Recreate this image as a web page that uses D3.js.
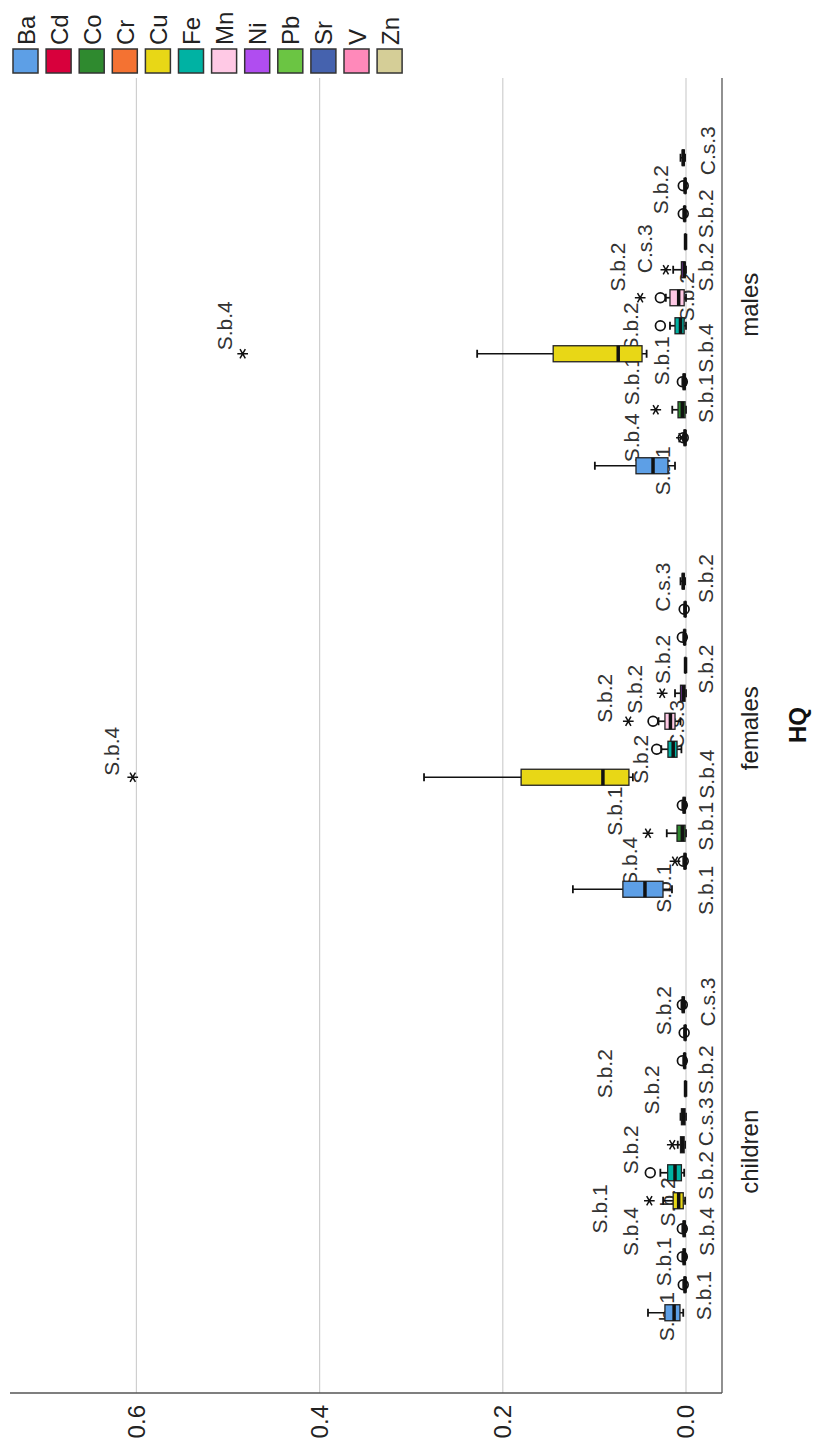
<!DOCTYPE html>
<html>
<head>
<meta charset="utf-8">
<script src="https://cdn.jsdelivr.net/npm/d3@7"></script>
<style>
  body { margin: 0; background: #fff; }
  text { font-family: 'Liberation Sans', Arial, sans-serif; }
</style>
</head>
<body>
<svg id="chart" width="815" height="1444"></svg>
<script>
var groups = ['children', 'females', 'males'];
var elements = ['Ba', 'Cd', 'Co', 'Cr', 'Cu', 'Fe', 'Mn', 'Ni', 'Pb', 'Sr', 'V', 'Zn'];
var colors = ['#5d9fe6', '#d8003c', '#2f8a2f', '#f47232', '#e8d716', '#00b2a3',
  '#ffc9e5', '#b04df0', '#6bc543', '#4562ae', '#ff89ba', '#d5ce97'];
var ticks = [0, 0.2, 0.4, 0.6];

// [lower whisker, Q1, median, Q3, upper whisker] per element
var childrenBox = [
  [0.003, 0.0066, 0.013, 0.023, 0.0415],
  [0, 0.0005, 0.001, 0.002, 0.003],
  [0, 0.001, 0.002, 0.003, 0.004],
  [0, 0.001, 0.002, 0.003, 0.004],
  [0.001, 0.003, 0.008, 0.014, 0.025],
  [0.002, 0.005, 0.012, 0.02, 0.028],
  [0.001, 0.002, 0.004, 0.006, 0.009],
  [0, 0.001, 0.003, 0.005, 0.006],
  [0, 0.0005, 0.0005, 0.001, 0.001],
  [0, 0.001, 0.0015, 0.002, 0.003],
  [0, 0.0005, 0.001, 0.001, 0.002],
  [0.001, 0.002, 0.003, 0.004, 0.005]
];
var femalesBox = [
  [0.0153, 0.0251, 0.0448, 0.0689, 0.1235],
  [0, 0.0005, 0.001, 0.002, 0.003],
  [0, 0.001, 0.004, 0.0098, 0.021],
  [0, 0.001, 0.002, 0.003, 0.004],
  [0.058, 0.0623, 0.0907, 0.18, 0.286],
  [0.005, 0.0098, 0.014, 0.0197, 0.027],
  [0.006, 0.012, 0.017, 0.023, 0.03],
  [0, 0.001, 0.003, 0.006, 0.012],
  [0, 0.0005, 0.0005, 0.001, 0.001],
  [0, 0.001, 0.0015, 0.002, 0.003],
  [0, 0.0005, 0.001, 0.001, 0.002],
  [0.001, 0.002, 0.003, 0.004, 0.006]
];
var malesBox = [
  [0.012, 0.0197, 0.036, 0.0546, 0.0995],
  [0, 0.0005, 0.001, 0.002, 0.003],
  [0, 0.001, 0.004, 0.0087, 0.015],
  [0, 0.001, 0.002, 0.003, 0.004],
  [0.043, 0.048, 0.074, 0.145, 0.228],
  [0, 0.002, 0.006, 0.012, 0.0175],
  [0, 0.002, 0.008, 0.0175, 0.022],
  [0, 0.001, 0.002, 0.005, 0.014],
  [0, 0.0005, 0.0005, 0.001, 0.001],
  [0, 0.001, 0.0015, 0.002, 0.003],
  [0, 0.0005, 0.001, 0.001, 0.002],
  [0.001, 0.002, 0.003, 0.004, 0.006]
];

// [group, element, HQ, symbol]
var outliers = [
  ['children', 'Cd', 0.003, 'o'], ['children', 'Co', 0.004, 'o'], ['children', 'Cr', 0.004, 'o'],
  ['children', 'Cu', 0.040, '*'], ['children', 'Fe', 0.039, 'o'], ['children', 'Mn', 0.015, '*'],
  ['children', 'Sr', 0.004, 'o'], ['children', 'V', 0.002, 'o'], ['children', 'Zn', 0.004, 'o'],
  ['females', 'Cd', 0.003, 'o'], ['females', 'Cd', 0.012, '*'], ['females', 'Co', 0.0415, '*'],
  ['females', 'Cr', 0.004, 'o'], ['females', 'Cu', 0.604, '*'], ['females', 'Fe', 0.032, 'o'],
  ['females', 'Mn', 0.036, 'o'], ['females', 'Mn', 0.063, '*'], ['females', 'Ni', 0.026, '*'],
  ['females', 'Sr', 0.004, 'o'], ['females', 'V', 0.002, 'o'],
  ['males', 'Cd', 0.003, 'o'], ['males', 'Cd', 0.005, '*'], ['males', 'Co', 0.033, '*'],
  ['males', 'Cr', 0.004, 'o'], ['males', 'Cu', 0.484, '*'], ['males', 'Fe', 0.028, 'o'],
  ['males', 'Mn', 0.028, 'o'], ['males', 'Mn', 0.050, '*'], ['males', 'Ni', 0.022, '*'],
  ['males', 'Sr', 0.003, 'o'], ['males', 'V', 0.003, 'o']
];

// case labels: [group, element slot, HQ at label centre, text]
var caseLabels = [
  ['children', -0.14, 0.021, 'S.b.1'], ['children', 0.61, -0.019, 'S.b.1'],
  ['children', 1.82, 0.025, 'S.b.1'], ['children', 2.9, -0.022, 'S.b.4'],
  ['children', 2.9, 0.061, 'S.b.4'], ['children', 3.71, 0.094, 'S.b.1'],
  ['children', 3.96, 0.02, 'S.b.2'], ['children', 4.9, -0.021, 'S.b.2'],
  ['children', 5.82, 0.061, 'S.b.2'], ['children', 6.82, -0.021, 'C.s.3'],
  ['children', 7.96, 0.038, 'S.b.2'], ['children', 8.68, -0.021, 'S.b.2'],
  ['children', 8.54, 0.0885, 'S.b.2'], ['children', 10.79, 0.025, 'S.b.2'],
  ['children', 11.1, -0.023, 'C.s.3'],
  ['females', -0.04, -0.021, 'S.b.1'], ['females', 0.04, 0.025, 'S.b.1'],
  ['females', 1.0, 0.062, 'S.b.4'], ['females', 2.25, -0.021, 'S.b.1'],
  ['females', 2.79, 0.078, 'S.b.1'], ['females', 4.11, -0.022, 'S.b.4'],
  ['females', 4.64, 0.050, 'S.b.2'], ['females', 4.93, 0.627, 'S.b.4'],
  ['females', 5.89, 0.01, 'C.s.3'], ['females', 6.82, 0.0885, 'S.b.2'],
  ['females', 7.14, 0.056, 'S.b.2'], ['females', 7.86, -0.021, 'S.b.2'],
  ['females', 8.21, 0.026, 'S.b.2'], ['females', 10.79, 0.026, 'C.s.3'],
  ['females', 11.1, -0.021, 'S.b.2'],
  ['males', -0.18, 0.026, 'S.b.1'], ['males', 1.0, 0.059, 'S.b.4'],
  ['males', 2.4, -0.021, 'S.b.1'], ['males', 3.04, 0.059, 'S.b.1'],
  ['males', 3.75, 0.027, 'S.b.1'], ['males', 4.2, -0.021, 'S.b.4'],
  ['males', 4.96, 0.061, 'S.b.2'], ['males', 5.0, 0.504, 'S.b.4'],
  ['males', 6.04, 0.0, 'S.b.2'], ['males', 7.1, 0.075, 'S.b.2'],
  ['males', 7.1, -0.021, 'S.b.2'], ['males', 7.75, 0.045, 'C.s.3'],
  ['males', 9.0, -0.021, 'S.b.2'], ['males', 9.86, 0.028, 'S.b.2'],
  ['males', 11.25, -0.023, 'C.s.3']
];

var boxes = { children: childrenBox, females: femalesBox, males: malesBox };

var svg = d3.select('#chart');
svg.append('rect').attr('width', 815).attr('height', 1444).attr('fill', '#fff');

// chart is drawn upright, then turned a quarter turn to the left
var g = svg.append('g').attr('transform', 'translate(0,1444) rotate(-90)');

var left = 51, right = 1366, base = 722;

var y = d3.scaleLinear().domain([0, 0.738]).range([686, 10]);
var x = d3.scaleBand().domain(groups).range([80.5, 1351]);
var xe = d3.scalePoint().domain(elements).range([-175, 161]).padding(0.5);
var boxW = 16;

function pos(gr, slot) {
  return x(gr) + x.bandwidth() / 2 + xe(elements[0]) + slot * xe.step();
}

g.selectAll('.grid')
  .data(ticks)
  .enter()
  .append('line')
  .attr('class', 'grid')
  .attr('x1', left)
  .attr('x2', right)
  .attr('y1', d => y(d))
  .attr('y2', d => y(d))
  .attr('stroke', '#cfcfcf')
  .attr('stroke-width', 1.2);

var yAxis = g
  .append('g')
  .attr('transform', 'translate(' + left + ',0)')
  .call(d3.axisLeft(y).tickValues(ticks).tickFormat(d3.format('.1f')).tickSize(0).tickPadding(12));
yAxis.select('.domain').remove();
yAxis.selectAll('text').attr('font-size', 24).attr('fill', '#222');

var xAxis = g
  .append('g')
  .attr('transform', 'translate(0,' + base + ')')
  .call(d3.axisBottom(x).tickSize(0).tickPadding(19));
xAxis.select('.domain').remove();
xAxis.selectAll('text').attr('font-size', 24).attr('fill', '#222');

g.append('line')
  .attr('x1', left).attr('x2', left).attr('y1', 10).attr('y2', base)
  .attr('stroke', '#555').attr('stroke-width', 1.3);
g.append('line')
  .attr('x1', left).attr('x2', right).attr('y1', base).attr('y2', base)
  .attr('stroke', '#555').attr('stroke-width', 1.3);

g.append('text')
  .attr('x', 719)
  .attr('y', 797)
  .attr('text-anchor', 'middle')
  .attr('dominant-baseline', 'central')
  .attr('font-size', 24)
  .attr('font-weight', 'bold')
  .attr('fill', '#111')
  .text('HQ');

// case labels sit under the boxes
g.selectAll('.case')
  .data(caseLabels)
  .enter()
  .append('text')
  .attr('class', 'case')
  .attr('x', d => pos(d[0], d[1]))
  .attr('y', d => y(d[2]))
  .attr('text-anchor', 'middle')
  .attr('dominant-baseline', 'central')
  .attr('font-size', 21)
  .attr('fill', '#333')
  .text(d => d[3]);

var stats = [];
groups.forEach(function(gr) {
  boxes[gr].forEach(function(b, i) {
    stats.push({ g: gr, el: elements[i], i: i, b: b });
  });
});

var bx = g.selectAll('.box')
  .data(stats)
  .enter()
  .append('g')
  .attr('class', 'box')
  .attr('transform', d => 'translate(' + pos(d.g, d.i) + ',0)');

bx.append('line')
  .attr('y1', d => y(d.b[0])).attr('y2', d => y(d.b[4]))
  .attr('stroke', '#111').attr('stroke-width', 1.7);
bx.append('line')
  .attr('x1', -4).attr('x2', 4)
  .attr('y1', d => y(d.b[4])).attr('y2', d => y(d.b[4]))
  .attr('stroke', '#111').attr('stroke-width', 1.8);
bx.append('line')
  .attr('x1', -4).attr('x2', 4)
  .attr('y1', d => y(d.b[0])).attr('y2', d => y(d.b[0]))
  .attr('stroke', '#111').attr('stroke-width', 1.8);
bx.append('rect')
  .attr('x', -boxW / 2)
  .attr('width', boxW)
  .attr('y', d => y(d.b[3]))
  .attr('height', d => Math.max(y(d.b[1]) - y(d.b[3]), 0.5))
  .attr('fill', d => colors[d.i])
  .attr('stroke', '#222')
  .attr('stroke-width', 1.3);
bx.append('line')
  .attr('x1', -boxW / 2).attr('x2', boxW / 2)
  .attr('y1', d => y(d.b[2])).attr('y2', d => y(d.b[2]))
  .attr('stroke', '#111').attr('stroke-width', 3.5);

var star = d3.symbol().type(d3.symbolAsterisk).size(80);

g.selectAll('.out')
  .data(outliers)
  .enter()
  .append('path')
  .attr('class', 'out')
  .attr('transform', d => 'translate(' + pos(d[0], elements.indexOf(d[1])) + ',' + y(d[2]) + ')')
  .attr('d', d => d[3] === '*' ? star() : d3.symbol().type(d3.symbolCircle).size(75)())
  .attr('fill', 'none')
  .attr('stroke', '#111')
  .attr('stroke-width', d => d[3] === '*' ? 1.5 : 1.7);

// legend
var lg = g.selectAll('.leg')
  .data(elements)
  .enter()
  .append('g')
  .attr('class', 'leg')
  .attr('transform', (d, i) => 'translate(1371,' + (13 + i * 33.1) + ')');
lg.append('rect')
  .attr('width', 24)
  .attr('height', 25)
  .attr('fill', (d, i) => colors[i])
  .attr('stroke', '#333')
  .attr('stroke-width', 1.5);
lg.append('text')
  .attr('x', 28)
  .attr('y', 13)
  .attr('dominant-baseline', 'central')
  .attr('font-size', 24)
  .attr('fill', '#222')
  .text(d => d);
</script>
</body>
</html>
